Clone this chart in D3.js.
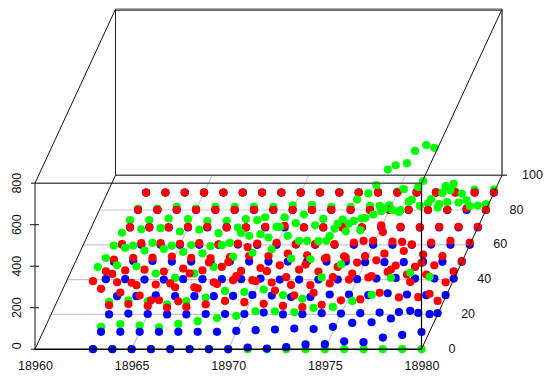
<!DOCTYPE html>
<html>
<head>
<meta charset="utf-8">
<script src="https://cdn.jsdelivr.net/npm/d3@7"></script>
<style>
  html, body { margin: 0; padding: 0; background: #fff; }
  text { font-family: "Liberation Sans", Arial, sans-serif; font-size: 12.5px; fill: #111; }
</style>
</head>
<body>
<div id="chart"></div>
<script>
// columns of every row below
const years = [18962, 18963, 18964, 18965, 18966, 18967, 18968, 18969, 18970, 18971,
  18972, 18973, 18974, 18975, 18976, 18977, 18978, 18979, 18980];
// rows, drawn back to front
const ages = [90, 80, 70, 60, 50, 40, 30, 20, 10, 0];

const xTicks = [18960, 18965, 18970, 18975, 18980];
const ageTicks = [0, 20, 40, 60, 80, 100];
const zTicks = [0, 200, 400, 600, 800];

const blueValues = [
  [0, 0, 0, 0, 0, 0, 0, 0, 0, 0, 0, 0, 0, 0, 0, 0, 0, 0, 0],
  [0, 0, 0, 0, 0, 0, 0, 0, 0, 0, 0, 0, 0, 0, 0, 0, 0, 0, 0],
  [0, 0, 0, 0, 0, 0, 0, 0, 0, 0, 0, 0, 0, 0, 0, 0, 0, 0, 0],
  [1, 0, 0, 0, 0, 0, 1, 0, 0, 1, 0, 0, 0, 0, 0, 0, 1, 0, 0],
  [2, 6, 6, 3, 3, 3, 3, 3, 3, 3, 3, 3, 3, 0, 0, 0, 2, 2, 2],
  [2, 2, 0, 0, 2, 2, 2, 2, 5, 0, 0, 0, 0, 2, 5, 8, 5, 5, 5],
  [null, 4, 4, 8, 4, 4, 4, 5, 10, 7, 0, 0, 12, 12, 9, 18, 12, 9, 9],
  [null, 0, 4, 2, 0, 0, 2, 2, 2, 9, 0, 1, 6, 4, 6, 9, 11, 7, 6],
  [null, 0, 0, 0, 0, 0, 0, 0, 4, 8, 11, 16, 13, 24, 43, 46, 64, 101, 85],
  [null, 0, 0, 0, 0, 0, 0, 0, 0, 8, 3, 10, 23, 24, 38, 34, 56, 69, 83]
];

const greenValues = [
  [0, 0, 0, 0, 0, 0, 0, 0, 0, 0, 3, 3, 4, 5, 5, 4, 5, 15, 15],
  [7, 7, 15, 7, 15, 15, 15, 15, 22, 25, 15, 15, 20, 23, 39, 31, 38, 47, 28],
  [35, 35, 43, 40, 30, 31, 40, 49, 49, 62, 41, 38, 43, 78, 83, 104, 112, 120, 105],
  [58, 75, 80, 64, 73, 56, 83, 119, 86, 104, 94, 78, 115, 146, 167, 218, 220, 263, 187],
  [80, 80, 93, 80, 83, 78, 93, 127, 119, 127, 103, 103, 149, 213, 259, 352, 391, 334, 330],
  [104, 153, 140, 147, 133, 127, 166, 225, 219, 254, 187, 185, 270, 386, 456, 551, 620, 635, 461],
  [144, 153, 148, 113, 92, 113, 145, 193, 214, 230, 185, 182, 294, 354, 499, 614, 645, 732, 534],
  [null, 60, 68, 63, 49, 64, 81, 113, 108, 120, 93, 75, 178, 241, 406, 523, 494, 614, 515],
  [null, 24, 37, 30, 22, 38, 51, 66, 77, 99, 99, 94, 115, 120, 149, 178, 260, 284, 265],
  [null, 0, 0, 0, 0, 0, 0, 0, 0, 0, 0, 0, 0, 0, 0, 0, 0, 0, 0]
];

const redValues = [
  [0, 0, 0, 0, 0, 0, 0, 0, 0, 0, 0, 0, 0, 0, 0, 0, 0, 0, 0],
  [1, 1, 1, 1, 1, 1, 1, 1, 1, 1, 1, 1, 1, 1, 1, 1, 1, 8, 1],
  [0, 0, 0, 3, 3, 0, 0, 3, 8, 0, 0, 0, 0, 10, 3, 0, 3, 3, 3],
  [3, 8, 8, 5, 8, 2, 6, 6, 10, 3, 3, 3, 11, 19, 16, 2, 11, 19, 11],
  [13, 21, 22, 27, 21, 20, 25, 30, 30, 41, 33, 22, 22, 29, 41, 54, 37, 29, 5],
  [40, 44, 48, 39, 53, 44, 61, 42, 56, 69, 48, 39, 61, 82, 93, 68, 61, 69, 40],
  [null, 71, 57, 60, 47, 47, 71, 81, 81, 70, 58, 57, 65, 84, 94, 121, 108, 108, 71],
  [null, 44, 50, 41, 33, 36, 48, 65, 59, 51, 41, 35, 46, 68, 72, 104, 82, 83, 65],
  [null, 207, 189, 175, 152, 147, 209, 230, 268, 244, 199, 176, 188, 264, 281, 268, 300, 240, 183],
  [null, 328, 363, 320, 236, 317, 365, 418, 420, 492, 376, 347, 408, 437, 448, 522, 565, 517, 416]
];

const width = 551;
const height = 383;

// oblique projection, the depth axis pushes points right and up
const xScale = d3.scaleLinear().domain([18960, 18980]).range([35, 421.5]);
const depthX = d3.scaleLinear().domain([0, 100]).range([0, 80.5]);
const depthY = d3.scaleLinear().domain([0, 100]).range([349.2, 175.2]);
const zScale = d3.scaleLinear().domain([0, 800]).range([0, 166]);

const px = (year, age) => xScale(year) + depthX(age);
const py = (age, z) => depthY(age) - zScale(z);

const svg = d3.select('#chart')
  .append('svg')
  .attr('width', width)
  .attr('height', height)
  .style('display', 'block');

function segment(x1, y1, x2, y2, color, w) {
  svg.append('line')
    .attr('x1', x1).attr('y1', y1)
    .attr('x2', x2).attr('y2', y2)
    .attr('stroke', color)
    .attr('stroke-width', w);
}

// floor grid
ageTicks.slice(1, -1).forEach(a => {
  segment(px(18960, a), py(a, 0), px(18980, a), py(a, 0), '#c8c8c8', 1.2);
});
xTicks.slice(1, -1).forEach(y => {
  segment(px(y, 0), py(0, 0), px(y, 100), py(100, 0), '#c8c8c8', 1.2);
});

// back wall
segment(px(18960, 100), py(100, 800), px(18980, 100), py(100, 800), '#999', 2);
segment(px(18960, 100), py(100, 800) + 1, px(18980, 100), py(100, 800) + 1, '#333', 1);
segment(px(18960, 100), py(100, 800), px(18960, 100), py(100, 0), '#222', 1);
segment(px(18980, 100), py(100, 800), px(18980, 100), py(100, 0), '#777', 2);
segment(px(18960, 100), py(100, 0), px(18980, 100) + 5, py(100, 0), '#555', 1.6);

// points, row by row, so nearer rows cover the ones behind
const series = [
  { values: greenValues, color: '#00ff00' },
  { values: blueValues, color: '#0000ff' },
  { values: redValues, color: '#ff0000' }
];
ages.forEach((age, i) => {
  series.forEach(s => {
    const row = years
      .map((year, j) => ({ year, age, z: s.values[i][j] }))
      .filter(d => d.z !== null);
    svg.append('g')
      .selectAll('circle')
      .data(row)
      .join('circle')
      .attr('cx', d => px(d.year, d.age))
      .attr('cy', d => py(d.age, d.z))
      .attr('r', 4.1)
      .attr('fill', s.color);
  });
});

// front of the box
segment(px(18960, 0), py(0, 800), px(18960, 0), py(0, 0), '#888', 2);
segment(px(18960, 0) - 4, py(0, 800), px(18980, 0), py(0, 800), '#555', 1.6);
segment(px(18960, 0), py(0, 0), px(18980, 0), py(0, 0), '#000', 1.5);
segment(px(18980, 0), py(0, 800), px(18980, 0), py(0, 0), '#000', 1.2);
segment(px(18960, 0), py(0, 0), px(18960, 100), py(100, 0), '#111', 1);
segment(px(18960, 0), py(0, 800), px(18960, 100), py(100, 800), '#111', 1);
segment(px(18980, 0), py(0, 800), px(18980, 100), py(100, 800), '#111', 1);
segment(px(18980, 0), py(0, 0), px(18980, 100), py(100, 0), '#111', 1);

// z ticks straddle the left edge
zTicks.slice(1, -1).forEach(z => {
  segment(px(18960, 0) - 5, py(0, z), px(18960, 0) + 4, py(0, z), '#111', 1);
});
segment(px(18960, 0) - 4, py(0, 0), px(18960, 0), py(0, 0), '#111', 1);

// labels
svg.selectAll('.x-label')
  .data(xTicks)
  .join('text')
  .attr('class', 'x-label')
  .attr('x', d => xScale(d) + 0.5)
  .attr('y', 369.5)
  .attr('text-anchor', 'middle')
  .text(d => d);

svg.selectAll('.age-label')
  .data(ageTicks)
  .join('text')
  .attr('class', 'age-label')
  .attr('x', d => px(18980, d) + 30.5)
  .attr('y', d => py(d, 0) + 3.5)
  .attr('text-anchor', 'middle')
  .text(d => d);

svg.selectAll('.z-label')
  .data(zTicks)
  .join('text')
  .attr('class', 'z-label')
  .attr('transform', d => `translate(21,${py(0, d) - (d === 0 ? 3.5 : 0)}) rotate(-90)`)
  .attr('text-anchor', 'middle')
  .text(d => d);
</script>
</body>
</html>
